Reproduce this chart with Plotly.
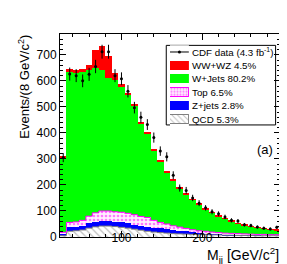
import math
import plotly.graph_objects as go

# ---- binning (8 GeV/c^2 bins) ----
bin_width = 8
bin_low = list(range(24, 296, bin_width))          # 34 bins: 24 .. 288
bin_centers = [b + bin_width / 2 for b in bin_low]

# ---- stacked MC components (events per bin) ----
qcd = [5, 22, 24, 27, 34, 39, 42, 42, 40, 37, 34, 30, 26, 22, 19, 17, 15,
       13, 12, 11, 10, 9, 9, 8, 8, 7, 7, 6, 6, 6, 5, 5, 5, 5]
zjets = [10, 15, 15, 16, 18, 19, 19, 19, 19, 19, 18, 17, 16, 17, 17, 16, 15,
         14, 12, 11, 9, 8, 6, 5, 4, 4, 3, 3, 3, 2, 3, 2, 2, 2]
top = [3, 19, 19, 21, 28, 35, 39, 39, 38, 39, 39, 39, 37, 36, 28, 23, 20,
       16, 14, 11, 9, 7, 7, 6, 5, 4, 4, 4, 3, 3, 2, 3, 2, 2]
wjets = [287, 579, 574, 571, 560, 555, 542, 510, 506, 483, 454, 417, 354, 323,
         268, 235, 196, 175, 150, 132, 115, 100, 85, 74, 63, 56, 47, 39, 34,
         29, 26, 21, 18, 17]
wwwz = [7, 9, 8, 10, 22, 70, 93, 85, 27, 10, 9, 9, 8, 7, 7, 6, 6, 5, 4, 4,
        3, 3, 2, 2, 2, 2, 2, 1, 1, 1, 1, 1, 1, 1]

# ---- CDF data ----
data = [305, 626, 620, 600, 625, 655, 712, 712, 620, 608, 560, 497, 460, 432,
        382, 330, 308, 237, 188, 179, 150, 130, 112, 97, 89, 77, 64, 61, 47,
        44, 38, 34, 31, 37]
data_err = [math.sqrt(v) for v in data]

# ---- legend entries ----
leg_labels = ["CDF data (4.3 fb<sup>-1</sup>)", "WW+WZ 4.5%", "W+Jets 80.2%",
              "Top 6.5%", "Z+jets 2.8%", "QCD 5.3%"]

RED, GREEN, BLUE, MAG, GRAY = "#ff0000", "#00ff00", "#0000ff", "#ff00ff", "#7f7f7f"
FONT = "Liberation Sans, Arial, Helvetica, sans-serif"

styles = {
    "QCD": dict(color="white", line=dict(width=0),
                pattern=dict(shape="\\", fgcolor=GRAY, bgcolor="white", size=5, solidity=0.25)),
    "Z+jets": dict(color=BLUE, line=dict(width=0)),
    "Top": dict(color="#ffe0ff", line=dict(width=0),
                pattern=dict(shape=".", fgcolor=MAG, bgcolor="#fff0ff", size=4, solidity=0.35)),
    "W+Jets": dict(color=GREEN, line=dict(width=0)),
    "WW+WZ": dict(color=RED, line=dict(width=0)),
}

fig = go.Figure()

for name, vals in [("QCD", qcd), ("Z+jets", zjets), ("Top", top),
                   ("W+Jets", wjets), ("WW+WZ", wwwz)]:
    fig.add_trace(go.Bar(x=bin_centers, y=vals, width=bin_width, name=name,
                         marker=styles[name], showlegend=False,
                         xaxis="x", yaxis="y"))

# outline steps on top of QCD and Top components
cum_qcd = qcd
cum_top = [a + b + c for a, b, c in zip(qcd, zjets, top)]
edges = bin_low + [bin_low[-1] + bin_width]
fig.add_trace(go.Scatter(x=edges, y=cum_qcd + [cum_qcd[-1]], mode="lines",
                         line=dict(color=GRAY, width=1, shape="hv"),
                         showlegend=False, hoverinfo="skip"))
fig.add_trace(go.Scatter(x=edges, y=cum_top + [cum_top[-1]], mode="lines",
                         line=dict(color=MAG, width=1, shape="hv"),
                         showlegend=False, hoverinfo="skip"))

# data points
fig.add_trace(go.Scatter(x=bin_centers, y=data, mode="markers",
                         marker=dict(color="black", size=3),
                         error_y=dict(type="data", array=data_err, width=0,
                                      thickness=1, color="black"),
                         showlegend=False))

# ---- hand-built legend on a hidden helper axis (x2/y2) ----
rows = list(range(len(leg_labels)))
fig.add_trace(go.Scatter(x=[0.5], y=[rows[0]], mode="markers", xaxis="x2", yaxis="y2",
                         marker=dict(color="black", size=3),
                         error_x=dict(type="data", array=[0.5], width=0,
                                      thickness=1, color="black"),
                         showlegend=False, hoverinfo="skip"))
leg_styles = [
    dict(color=RED, line=dict(width=0)),
    dict(color=GREEN, line=dict(width=0)),
    dict(color="#fff0ff", line=dict(color=MAG, width=1),
         pattern=dict(shape=".", fgcolor=MAG, bgcolor="#fff0ff", size=3, solidity=0.4)),
    dict(color=BLUE, line=dict(width=0)),
    dict(color="white", line=dict(color=GRAY, width=1),
         pattern=dict(shape="\\", fgcolor=GRAY, bgcolor="white", size=4, solidity=0.25)),
]
for r, st in zip(rows[1:], leg_styles):
    fig.add_trace(go.Bar(x=[1], y=[r], orientation="h", width=0.68, base=0,
                         marker=st, xaxis="x2", yaxis="y2",
                         showlegend=False, hoverinfo="skip"))

annotations = []
for r, lab in zip(rows, leg_labels):
    annotations.append(dict(text=lab, x=0.595, y=r, xref="paper", yref="y2",
                            xanchor="left", yanchor="middle", showarrow=False,
                            borderpad=0,
                            font=dict(family=FONT, size=9.75, color="black")))
annotations += [
    dict(text="(a)", x=0.932, y=0.431, xref="paper", yref="paper",
         xanchor="center", yanchor="middle", showarrow=False,
         font=dict(family=FONT, size=13, color="black")),
    dict(text="M<sub>jj</sub> [GeV/c<sup>2</sup>]", x=1.0, y=-0.088,
         xref="paper", yref="paper", xanchor="right", yanchor="middle",
         showarrow=False, borderpad=0,
         font=dict(family=FONT, size=14, color="black")),
    dict(text="Events/(8 GeV/c<sup>2</sup>)", x=-0.162, y=0.742,
         xref="paper", yref="paper", xanchor="center", yanchor="middle",
         textangle=-90, showarrow=False,
         font=dict(family=FONT, size=13, color="black")),
]

axis_common = dict(showgrid=False, zeroline=False, showline=True, linecolor="black",
                   linewidth=1, mirror="ticks", ticks="inside", ticklen=6,
                   tickcolor="black", tickwidth=1,
                   tickfont=dict(family=FONT, size=12, color="black"))

fig.update_layout(
    width=287, height=264,
    margin=dict(l=52, r=15, t=26, b=35),
    paper_bgcolor="white", plot_bgcolor="white",
    barmode="stack", bargap=0,
    showlegend=False,
    xaxis=dict(range=[24, 296], tick0=0, dtick=100, ticklabelstandoff=-10,
               minor=dict(dtick=20, ticklen=3, ticks="inside", tickcolor="black"),
               **axis_common),
    yaxis=dict(range=[0, 780], tick0=0, dtick=100,
               minor=dict(dtick=20, ticklen=3, ticks="inside", tickcolor="black"),
               **axis_common),
    xaxis2=dict(domain=[0.50, 0.586], range=[0, 1], anchor="y2", visible=False,
                fixedrange=True),
    yaxis2=dict(domain=[0.5456, 0.9446], range=[5.5, -0.5], anchor="x2",
                visible=False, fixedrange=True),
    shapes=[dict(type="rect", xref="paper", yref="paper", x0=0.483, x1=0.980,
                 y0=0.552, y1=0.944, line=dict(color="black", width=1),
                 fillcolor="white", layer="below")],
    annotations=annotations,
)

fig.write_html("out.html")
